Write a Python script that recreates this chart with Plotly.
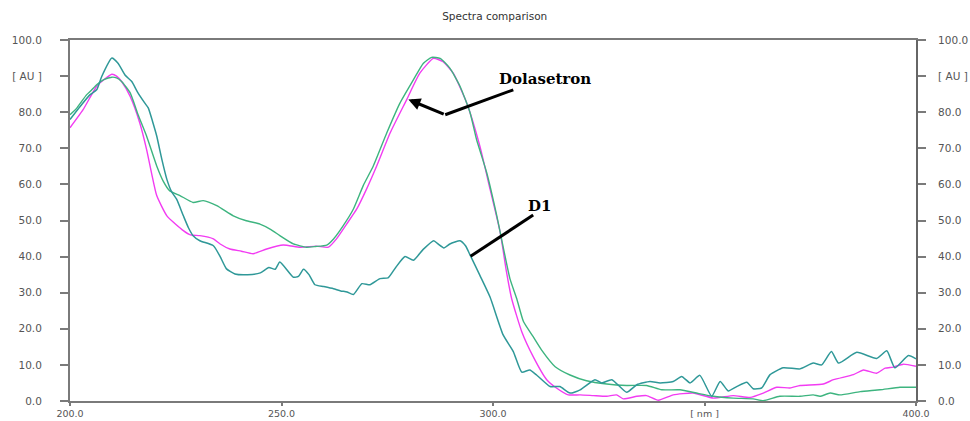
import plotly.graph_objects as go

# --- Spectra (wavelength in nm, absorbance in AU) ---
d1_nm = [200, 202.4, 204.7, 206.3, 207.5, 209.9, 211.4, 213, 214.6, 216, 217.7, 218.5, 219.5,
         220.5, 221.7, 222.9, 224, 225.2, 226.8, 228, 229.1, 230.7, 233.9, 235.5, 237, 239, 242,
         245, 247, 248.5, 249.6, 252.8, 254, 255.2, 256.5, 257.9, 260, 262.3, 264, 265.5, 267,
         269, 270.9, 273.3, 275.2, 277, 279.2, 281.2, 283.5, 286, 287, 288.4, 289.8, 292.2, 293.5,
         294.6, 296.9, 299.3, 302.4, 304.8, 306.8, 308.7, 310.3, 313.5, 315.8, 318.2, 320.6, 324.1,
         325.7, 328.1, 331.6, 334, 337.1, 339.5, 342.6, 344.6, 346.6, 348.9, 351.7, 353.7, 355.6,
         357.6, 360, 361.5, 363.5, 365.5, 368.6, 372.6, 375.7, 377.7, 380, 381.7, 386, 390.7,
         393.1, 395, 398.2, 400]
d1_au = [78.0, 81.6, 84.8, 86.2, 89.9, 95.0, 93.5, 90.3, 88.5, 85.5, 82.5, 81.2, 77.5,
         73.4, 67.0, 61.4, 58.0, 55.9, 51.3, 48.0, 45.8, 44.4, 43.0, 40.0, 36.6, 35.2, 35.0,
         35.5, 37.0, 36.5, 38.5, 34.3, 34.5, 36.5, 35.0, 32.2, 31.7, 31.1, 30.5, 30.2, 29.5,
         32.5, 32.2, 33.9, 34.1, 37.0, 40.0, 39.0, 42.0, 44.4, 43.5, 42.4, 43.5, 44.4, 43.0,
         40.4, 34.8, 28.8, 18.3, 13.7, 8.0, 8.6, 7.2, 4.0, 4.0, 2.2, 3.1, 5.9,
         5.0, 5.9, 2.4, 4.5, 5.4, 5.0, 5.4, 6.8, 5.0, 7.1, 1.3, 5.4, 2.8,
         4.0, 5.2, 3.4, 3.6, 7.3, 9.2, 8.9, 10.5, 10.0, 13.7, 10.5, 13.5, 11.8,
         13.9, 9.2, 12.6, 11.7]

dola_nm = [200, 201.5, 203.9, 205, 206.3, 208, 209.9, 211, 212.2, 214.2, 216.1, 218.1, 220.5,
           222, 223.6, 226, 229.1, 231.5, 234.7, 238.6, 241.5, 244.9, 247.5, 249.6, 252.8, 255.9,
           258, 260.7, 262.3, 264.6, 267, 269.3, 271.7, 274.9, 278, 281.2, 283.5, 285.5, 287.5,
           289.8, 292.2, 294.6, 296.1, 298.5, 300.9, 304, 305.6, 307.2, 309.5, 311.5, 314.7, 318.2,
           322.1, 326.9, 331.6, 336.3, 339.9, 344.2, 348.1, 352.1, 356.8, 361.5, 363.9, 367.8,
           372.6, 375.7, 377.3, 379.7, 382, 386.8, 391.5, 396.2, 400]
dola_au = [79.3, 81.0, 84.8, 86.0, 87.6, 89.0, 89.7, 89.5, 88.5, 85.4, 79.3, 73.4, 65.1,
           61.0, 58.2, 56.9, 55.0, 55.5, 54.1, 51.3, 50.0, 49.0, 47.5, 45.8, 43.5, 42.6,
           42.8, 43.2, 44.9, 48.6, 53.2, 59.6, 65.1, 74.3, 82.5, 89.0, 93.5, 95.2, 94.9,
           92.2, 87.2, 79.8, 72.5, 63.3, 51.3, 33.9, 28.4, 22.0, 17.8, 14.1, 9.5, 7.2,
           5.6, 4.7, 4.3, 4.3, 3.1, 3.1, 2.2, 1.3, 0.8, 0.6, 0.1, 1.3,
           1.3, 1.7, 1.3, 2.2, 1.7, 2.6, 3.1, 3.8, 3.8]

std_nm = [200, 203.1, 206.3, 208, 209.9, 211, 212.2, 214.2, 216.5, 218.1, 219.3, 220.5, 222.9,
          226.8, 228.5, 230.7, 233.9, 235.5, 237.8, 240.5, 243.3, 246.5, 250.4, 254.4, 258.3,
          261.1, 263, 265.4, 267.8, 270.1, 272.5, 275.7, 279.6, 282.7, 285.9, 288.2, 290.6,
          293.8, 296.9, 299.3, 301.7, 303.2, 304.4, 306.8, 309.5, 312.7, 315, 317.8, 320.6,
          323.7, 326.9, 329.2, 330.8, 334, 336.3, 339.1, 342.6, 347.3, 352.1, 356.8, 360.8,
          363.9, 367.1, 370.2, 372.6, 378.1, 380.5, 385.2, 387.6, 390.7, 392.7, 394.6, 397, 400]
std_au = [75.7, 80.7, 87.2, 89.0, 90.5, 90.0, 88.5, 84.4, 77.0, 69.7, 63.0, 56.9, 51.3,
          47.2, 46.0, 45.8, 44.9, 43.5, 42.1, 41.5, 40.8, 42.1, 43.2, 42.6, 42.9,
          42.6, 44.9, 49.0, 53.2, 58.7, 65.1, 74.3, 83.5, 90.8, 94.9, 94.0, 90.8,
          82.5, 70.6, 58.7, 46.7, 35.7, 28.4, 19.2, 12.3, 5.9, 3.6, 1.7, 1.7,
          1.5, 1.3, 1.7, 0.6, 1.3, 1.5, 0.2, 1.7, 2.2, 0.8, 1.5, 1.0,
          2.2, 3.8, 3.6, 4.3, 4.7, 5.9, 7.3, 8.6, 7.7, 9.1, 9.4, 10.2, 9.6]

x_ticks = [200, 250, 300, 350, 400]
x_labels = ["200.0", "250.0", "300.0", "[ nm ]", "400.0"]
y_ticks = [0, 10, 20, 30, 40, 50, 60, 70, 80, 90, 100]
y_labels = ["0.0", "10.0", "20.0", "30.0", "40.0", "50.0", "60.0", "70.0", "80.0", "[ AU ]", "100.0"]

MAGENTA = "#f23cf2"
GREEN = "#3db47f"
TEAL = "#2f9898"
AXIS = "#7a7a7a"
LABEL = "#555555"

fig = go.Figure()
fig.add_trace(go.Scatter(x=std_nm, y=std_au, mode="lines", name="Dolasetron std",
                         line=dict(color=MAGENTA, width=1.4, shape="spline", smoothing=0.5)))
fig.add_trace(go.Scatter(x=dola_nm, y=dola_au, mode="lines", name="Dolasetron",
                         line=dict(color=GREEN, width=1.4, shape="spline", smoothing=0.5)))
fig.add_trace(go.Scatter(x=d1_nm, y=d1_au, mode="lines", name="D1", yaxis="y2",
                         line=dict(color=TEAL, width=1.5, shape="spline", smoothing=0.5)))

tick_font = dict(family="DejaVu Sans", size=10.5, color=LABEL)
x_tick_font = dict(family="DejaVu Sans", size=9.5, color=LABEL)

fig.update_layout(
    width=970, height=421,
    margin=dict(l=70, r=54, t=40, b=20, autoexpand=False),
    paper_bgcolor="white", plot_bgcolor="white",
    showlegend=False,
    title=dict(text="Spectra comparison", x=0.51, xanchor="center",
               y=1 - 16 / 421, yref="container", yanchor="middle",
               font=dict(family="DejaVu Sans", size=10.5, color="#333333")),
    xaxis=dict(range=[200, 400], tickmode="array", tickvals=x_ticks, ticktext=x_labels,
               ticks="outside", ticklen=3, tickcolor=AXIS, tickwidth=1.5,
               showline=True, linecolor=AXIS, linewidth=1.5, mirror=True,
               showgrid=False, zeroline=False, tickfont=x_tick_font, automargin=False),
    yaxis=dict(range=[0, 100], tickmode="array", tickvals=y_ticks, ticktext=y_labels,
               ticks="outside", ticklen=8, tickcolor=AXIS, tickwidth=1.5,
               showline=True, linecolor=AXIS, linewidth=2, automargin=False,
               showgrid=False, zeroline=False, tickfont=tick_font, ticklabelstandoff=16),
    yaxis2=dict(range=[0, 100], overlaying="y", side="right", tickmode="array",
                tickvals=y_ticks, ticktext=y_labels, automargin=False,
                ticks="outside", ticklen=8, tickcolor=AXIS, tickwidth=1.5,
                showline=True, linecolor="#666666", linewidth=2,
                showgrid=False, zeroline=False, tickfont=tick_font, ticklabelstandoff=10),
)

# Callout labels and pointer lines
label_font = dict(family="DejaVu Serif", size=15, color="black")
fig.add_annotation(x=312.3, y=89.3, text="<b>Dolasetron</b>", showarrow=False,
                   font=label_font, xanchor="center", yanchor="middle")
fig.add_annotation(x=311.1, y=54.1, text="<b>D1</b>", showarrow=False,
                   font=label_font, xanchor="center", yanchor="middle")
fig.add_shape(type="line", x0=304.8, y0=86.2, x1=288.7, y1=79.3,
              line=dict(color="black", width=3))
fig.add_annotation(x=280.0, y=83.5, ax=288.7, ay=79.3, axref="x", ayref="y",
                   text="", showarrow=True, arrowhead=2, arrowsize=0.8,
                   arrowwidth=3, arrowcolor="black")
fig.add_shape(type="line", x0=309.5, y0=51.5, x1=294.7, y1=40.1,
              line=dict(color="black", width=3))

fig.write_html("out.html")
